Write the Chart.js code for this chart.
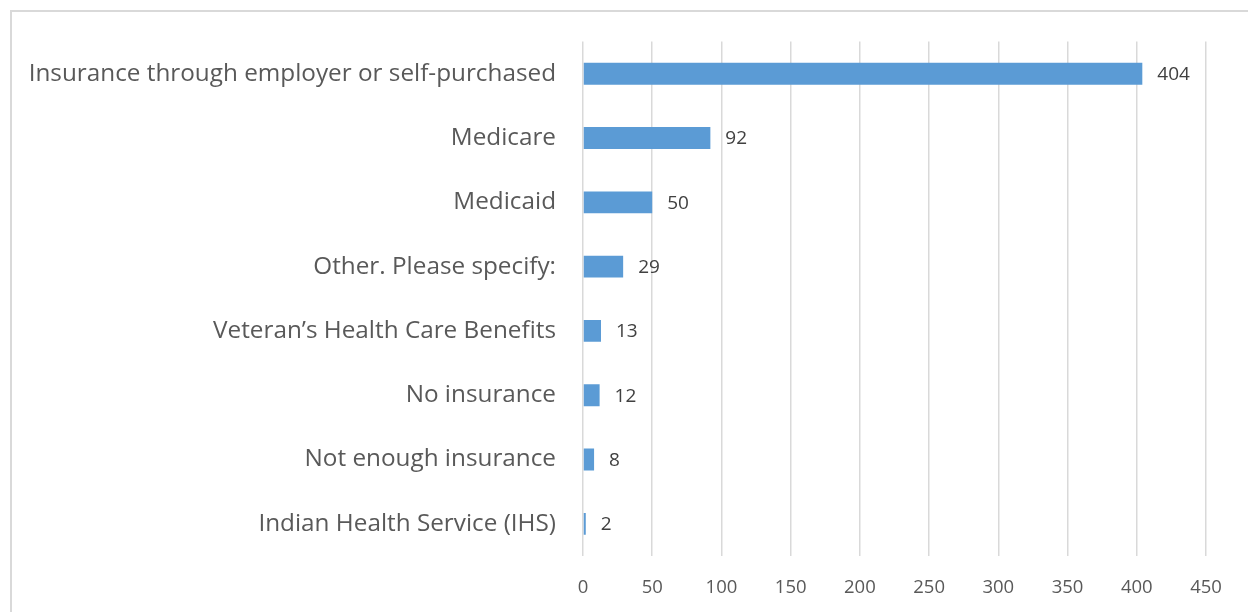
<!DOCTYPE html>
<html lang="en">
<head>
  <meta charset="UTF-8" />
  <title>Insurance coverage</title>
  <script src="https://cdn.jsdelivr.net/npm/chart.js"></script>
  <style>
    body {
      margin: 0;
      background: #fff;
      width: 1248px;
      height: 612px;
      overflow: hidden;
      position: relative;
    }
    .frame {
      position: absolute;
      left: 10px;
      top: 10px;
      width: 1260px;
      height: 640px;
      border: 2px solid #d9d9d9;
    }
    .wrap {
      position: absolute;
      left: 0;
      top: 0;
      width: 1248px;
      height: 612px;
    }
  </style>
</head>
<body>
  <div class="frame"></div>
  <div class="wrap"><canvas id="chart"></canvas></div>

  <script>
    const categories = [
      "Insurance through employer or self-purchased",
      "Medicare",
      "Medicaid",
      "Other. Please specify:",
      "Veteran\u2019s Health Care Benefits",
      "No insurance",
      "Not enough insurance",
      "Indian Health Service (IHS)"
    ];
    const counts = [404, 92, 50, 29, 13, 12, 8, 2];
    const xMin = 0, xMax = 450, xStep = 50;

    // draws the number just past the end of each bar
    const valueLabels = {
      id: 'valueLabels',
      afterDatasetsDraw(chart) {
        const ctx = chart.ctx;
        const meta = chart.getDatasetMeta(0);
        ctx.save();
        ctx.font = '19px "Open Sans"';
        ctx.fillStyle = '#404040';
        ctx.textAlign = 'left';
        ctx.textBaseline = 'middle';
        meta.data.forEach((bar, i) => {
          ctx.fillText(String(counts[i]), bar.x + 15, bar.y + 1);
        });
        ctx.restore();
      }
    };

    new Chart(document.getElementById('chart'), {
      type: 'bar',
      data: {
        labels: categories,
        datasets: [{
          data: counts,
          backgroundColor: '#5b9bd5',
          borderWidth: 0,
          categoryPercentage: 1,
          barPercentage: 0.34
        }]
      },
      options: {
        indexAxis: 'y',
        responsive: true,
        maintainAspectRatio: false,
        animation: false,
        layout: { padding: { top: 40, right: 42, bottom: 0, left: 0 } },
        plugins: { legend: { display: false }, tooltip: { enabled: false } },
        scales: {
          x: {
            min: xMin,
            max: xMax,
            ticks: {
              stepSize: xStep,
              color: '#595959',
              font: { family: 'Open Sans', size: 18.5 },
              padding: 21
            },
            grid: { color: '#d9d9d9', lineWidth: 1.5, drawTicks: false },
            border: { display: false },
            afterFit(scale) { scale.height = 56; }
          },
          y: {
            ticks: {
              color: '#595959',
              font: { family: 'Open Sans', size: 24.3 },
              padding: 27
            },
            grid: { display: false, drawTicks: false },
            border: { display: false },
            afterFit(scale) { scale.width = 583; }
          }
        }
      },
      plugins: [valueLabels]
    });
  </script>
</body>
</html>
